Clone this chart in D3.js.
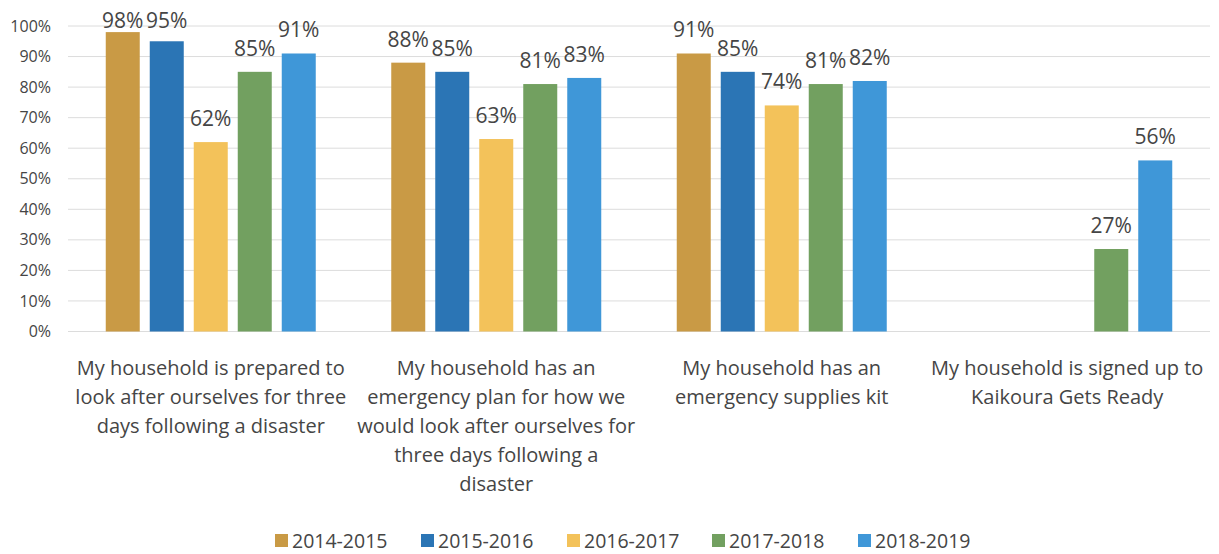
<!DOCTYPE html>
<html>
<head>
<meta charset="utf-8">
<script src="https://cdn.jsdelivr.net/npm/d3@7"></script>
<style>
  html, body { margin: 0; padding: 0; background: #fff; }
  svg { display: block; }
  text { font-family: "Open Sans", "Noto Sans", sans-serif; fill: #454545; }
</style>
</head>
<body>
<svg id="chart" width="1219" height="554"></svg>
<script>
// ---- data ----
const categories = [
  "My household is prepared to look after ourselves for three days following a disaster",
  "My household has an emergency plan for how we would look after ourselves for three days following a disaster",
  "My household has an emergency supplies kit",
  "My household is signed up to Kaikoura Gets Ready"
];
const categoryLines = [
  ["My household is prepared to", "look after ourselves for three", "days following a disaster"],
  ["My household has an", "emergency plan for how we", "would look after ourselves for", "three days following a", "disaster"],
  ["My household has an", "emergency supplies kit"],
  ["My household is signed up to", "Kaikoura Gets Ready"]
];
const seriesNames = ["2014-2015", "2015-2016", "2016-2017", "2017-2018", "2018-2019"];
const s2014 = [98, 88, 91, null];
const s2015 = [95, 85, 85, null];
const s2016 = [62, 63, 74, null];
const s2017 = [85, 81, 81, 27];
const s2018 = [91, 83, 82, 56];
const seriesColors = ["#C99A45", "#2B75B5", "#F3C25A", "#72A060", "#3F97D8"];
const yTicks = [0, 10, 20, 30, 40, 50, 60, 70, 80, 90, 100];

const seriesValues = [s2014, s2015, s2016, s2017, s2018];

// ---- layout ----
const svg = d3.select("#chart");
const plotLeft = 68, plotRight = 1210, plotTop = 26, plotBottom = 331.5;

const x0 = d3.scaleBand().domain(d3.range(categories.length)).range([plotLeft, plotRight]).padding(0);
const groupW = x0.bandwidth();
const barsSpan = 210;
const x1 = d3.scaleBand().domain(seriesNames)
  .range([(groupW - barsSpan) / 2, (groupW + barsSpan) / 2])
  .paddingInner(10 / 44).paddingOuter(0);
const y = d3.scaleLinear().domain([0, 100]).range([plotBottom, plotTop]);

// gridlines
svg.append("g").selectAll("line").data(yTicks).join("line")
  .attr("x1", plotLeft).attr("x2", plotRight)
  .attr("y1", d => y(d)).attr("y2", d => y(d))
  .attr("stroke", "#dcdcdc").attr("stroke-width", 1);

// y axis labels
const yAxis = d3.axisLeft(y).tickValues(yTicks).tickFormat(d => d + "%").tickSize(0).tickPadding(0);
const yg = svg.append("g").attr("transform", "translate(51,0)").call(yAxis);
yg.select(".domain").remove();
yg.selectAll("text").style("font-size", "16px").style("font-family", "\"Open Sans\", sans-serif").attr("fill", "#454545");

// bars
const groups = svg.append("g").selectAll("g").data(categories).join("g")
  .attr("transform", (d, i) => `translate(${x0(i)},0)`);

groups.each(function(c, ci) {
  const g = d3.select(this);
  const items = seriesNames.map((s, si) => ({ s, si, v: seriesValues[si][ci] })).filter(d => d.v != null);
  g.selectAll("rect").data(items).join("rect")
    .attr("x", d => x1(d.s)).attr("width", x1.bandwidth())
    .attr("y", d => y(d.v)).attr("height", d => y(0) - y(d.v))
    .attr("fill", d => seriesColors[d.si]);
  g.selectAll("text.val").data(items).join("text").attr("class", "val")
    .attr("x", d => x1(d.s) + x1.bandwidth() / 2)
    .attr("y", d => Math.max(28, y(d.v) - 16))
    .attr("text-anchor", "middle")
    .style("font-size", "21px")
    .text(d => d.v + "%");
});

// category labels
const catG = svg.append("g");
categoryLines.forEach((lines, i) => {
  const t = catG.append("text")
    .attr("x", x0(i) + groupW / 2)
    .attr("y", 375)
    .attr("text-anchor", "middle")
    .style("font-size", "20px");
  lines.forEach((ln, li) => {
    t.append("tspan").attr("x", x0(i) + groupW / 2).attr("y", 375 + li * 29).text(ln);
  });
});

// legend
const legendX = [275, 421, 567, 712, 858];
const lg = svg.append("g").selectAll("g").data(seriesNames).join("g")
  .attr("transform", (d, i) => `translate(${legendX[i]},541)`);
lg.append("rect").attr("x", 0).attr("y", -7).attr("width", 13).attr("height", 13)
  .attr("fill", (d, i) => seriesColors[i]);
lg.append("text").attr("x", 17).attr("y", 7).style("font-size", "19.5px").text(d => d);
</script>
</body>
</html>
